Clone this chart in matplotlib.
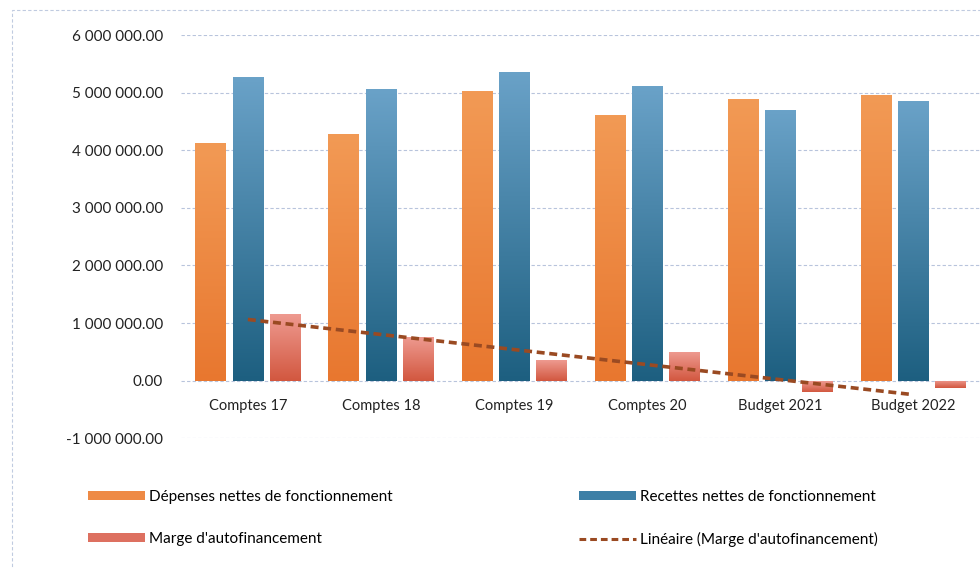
import matplotlib.pyplot as plt
import numpy as np
from matplotlib.colors import LinearSegmentedColormap
from matplotlib.lines import Line2D
from matplotlib.patches import Patch, Rectangle

categories = ["Comptes 17", "Comptes 18", "Comptes 19", "Comptes 20", "Budget 2021", "Budget 2022"]
depenses = [4120000, 4280000, 5030000, 4610000, 4890000, 4970000]
recettes = [5280000, 5060000, 5370000, 5110000, 4700000, 4850000]
marge = [1160000, 760000, 350000, 500000, -190000, -130000]

plt.rcParams["font.family"] = ["Lato", "DejaVu Sans"]

# (top colour, bottom colour) for the gradient fill of each series
series = [
    ("Dépenses nettes de fonctionnement", depenses, "#f29a55", "#e8772f", -0.28),
    ("Recettes nettes de fonctionnement", recettes, "#6aa2c8", "#1d5f80", 0.0),
    ("Marge d'autofinancement", marge, "#ee9a90", "#d2573f", 0.28),
]


def fmt_money(v, _pos=None):
    s = f"{abs(v):,.2f}".replace(",", " ")
    return ("-" if v < 0 else "") + s


fig = plt.figure(figsize=(9.8, 5.69), dpi=100)
ax = fig.add_axes([0.185, 0.23, 0.815, 0.708])

x = np.arange(len(categories))
width = 0.23
grad = np.linspace(0, 1, 256).reshape(-1, 1)

for label, vals, c_top, c_bot, off in series:
    bars = ax.bar(x + off, vals, width, color=c_bot, zorder=2, linewidth=0)
    cmap = LinearSegmentedColormap.from_list(label, [c_top, c_bot])
    for b in bars:
        x0, y0 = b.get_x(), b.get_y()
        w, h = b.get_width(), b.get_height()
        lo, hi = min(y0, y0 + h), max(y0, y0 + h)
        im = ax.imshow(grad, cmap=cmap, extent=[x0, x0 + w, lo, hi],
                       aspect="auto", origin="upper", zorder=3)
        im.set_clip_path(b)

# linear trend of the self-financing margin
coef = np.polyfit(x, marge, 1)
ax.plot(x, np.polyval(coef, x), color="#9a4a22", linestyle=(0, (2.2, 1.3)),
        linewidth=2.6, zorder=4)

ax.set_xlim(-0.5, len(categories) - 0.5)
ax.set_ylim(-1000000, 6000000)
ax.set_yticks(np.arange(-1000000, 6000001, 1000000))
ax.yaxis.set_major_formatter(fmt_money)
ax.tick_params(axis="y", length=0, labelsize=11, pad=13, labelcolor="#222222")
ax.grid(axis="y", color="#b8c4dc", linestyle=(0, (3, 2)), linewidth=0.8, zorder=0)
ax.set_axisbelow(True)

ax.set_xticks([])
for xi, cat in zip(x, categories):
    ax.text(xi, -450000, cat, ha="center", va="center", fontsize=10.5, color="#222222")

for s in ax.spines.values():
    s.set_visible(False)

handles = [
    Patch(facecolor="#ee8a45", label=series[0][0]),
    Patch(facecolor="#dd7060", label=series[2][0]),
    Patch(facecolor="#3d7fa6", label=series[1][0]),
    Line2D([0], [0], color="#9a4a22", linestyle=(0, (2.2, 1.3)), linewidth=2.2,
           label="Linéaire (Marge d'autofinancement)"),
]
fig.legend(handles=handles, ncol=2, loc="upper left", bbox_to_anchor=(0.076, 0.163),
           frameon=False, fontsize=11, handlelength=3.7, handleheight=0.5,
           handletextpad=0.3, columnspacing=12.2, labelspacing=1.85)

fig.patches.append(Rectangle((0.012, -0.1), 1.2, 1.082, transform=fig.transFigure,
                             fill=False, edgecolor="#c0cbe0", linestyle=(0, (3, 2)),
                             linewidth=0.8))

fig.savefig("out.png", dpi=100)
